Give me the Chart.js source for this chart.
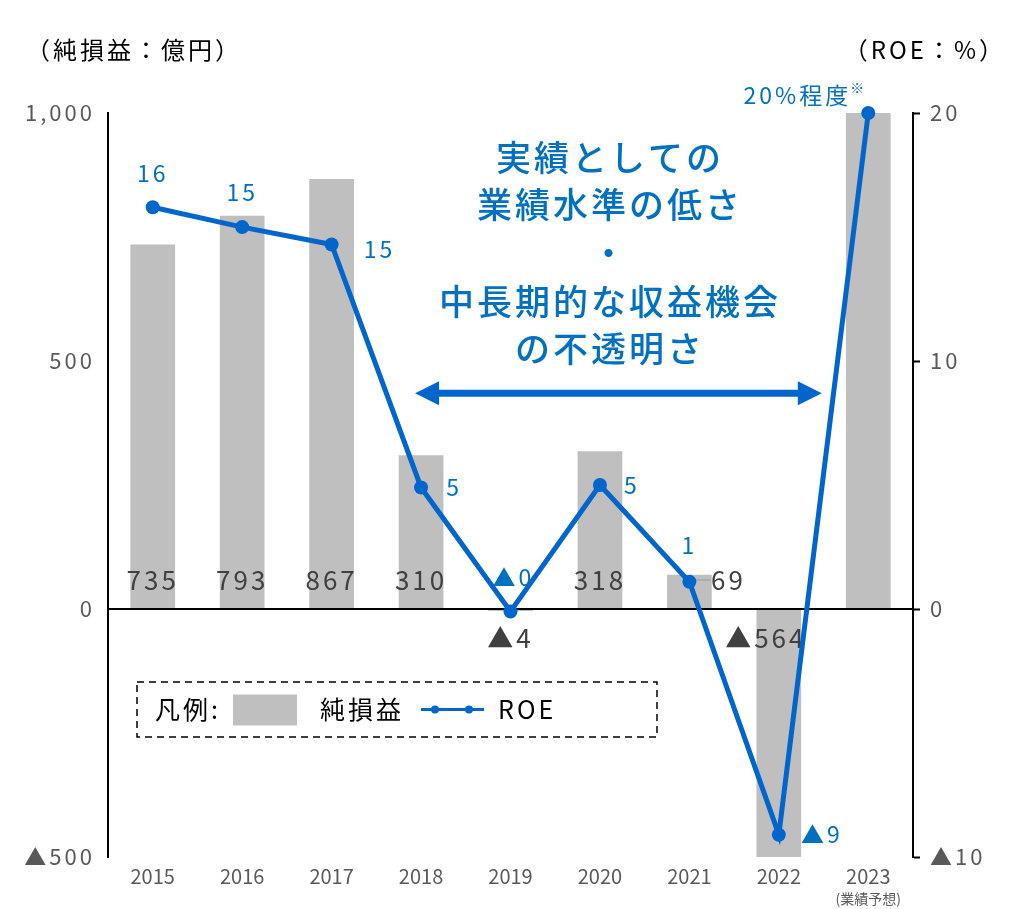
<!DOCTYPE html>
<html>
<head>
<meta charset="utf-8">
<script src="https://cdn.jsdelivr.net/npm/chart.js@4"></script>
<style>
  html, body { margin: 0; padding: 0; background: #fff; }
  #wrap { width: 1012px; height: 909px; position: relative; }
</style>
</head>
<body>
<div id="wrap"><canvas id="chart"></canvas></div>
<script>
// --- data ---
const years = ['2015', '2016', '2017', '2018', '2019', '2020', '2021', '2022', '2023'];
const forecastNote = '(業績予想)';
const netIncome = [735, 793, 867, 310, -4, 318, 69, -564, 1000];
const roe = [16.2, 15.4, 14.7, 4.9, -0.1, 5.0, 1.1, -9.1, 20];
const roeLabels = ['16', '15', '15', '5', '▲0', '5', '1', '▲9', '20%程度'];
const leftTicks = [-500, 0, 500, 1000];
const rightTicks = [-10, 0, 10, 20];
const callout = ['実績としての', '業績水準の低さ', '・', '中長期的な収益機会', 'の不透明さ'];

// --- label placement (offsets in px from the mark) ---
const barLabelOffsets = [[0, -29], [0, -29], [0, -29], [0, -29], [0, 29], [0, -29], [39, -29], [-13, 29], null];
const roeLabelOffsets = [[0, -34], [0, -35], [48, 5], [33, 0], [3, -34], [32, 0], [0, -36], [43, 0], [-71, -18]];

const BLUE = '#0066CC';
const TEXT_BLUE = '#0070C0';
const GRAY = '#BFBFBF';
const FONT = "'Noto Sans CJK JP', 'Noto Sans', sans-serif";
const SPACING = '3px';

Chart.defaults.font.family = FONT;

function fmt(v) {
    const s = Math.abs(v).toLocaleString('en-US');
    return v < 0 ? '▲' + s : s;
}

const overlay = {
    id: 'overlay',
    beforeDraw(chart) {
        // the source deck sets its text with a little tracking
        chart.ctx.letterSpacing = SPACING;
    },
    afterDatasetDraw(chart, args) {
        // bar value labels go under the ROE line
        if (args.index !== 1) return;
        const { ctx } = chart;
        const meta = chart.getDatasetMeta(1);
        const zeroY = chart.scales.y.getPixelForValue(0);
        ctx.save();
        ctx.letterSpacing = SPACING;
        ctx.font = `26px ${FONT}`;
        ctx.fillStyle = '#404040';
        ctx.textAlign = 'center';
        ctx.textBaseline = 'middle';
        meta.data.forEach((bar, i) => {
            const off = barLabelOffsets[i];
            if (!off) return;
            ctx.fillText(fmt(netIncome[i]), bar.x + off[0], zeroY + off[1]);
            if (off[0] > 20) {
                ctx.strokeStyle = '#A6A6A6';
                ctx.lineWidth = 1.5;
                ctx.beginPath();
                ctx.moveTo(bar.x, zeroY + off[1]);
                ctx.lineTo(bar.x + off[0] - 18, zeroY + off[1]);
                ctx.stroke();
            }
        });
        ctx.restore();
    },
    afterDatasetsDraw(chart) {
        const { ctx, scales: { x, y1 } } = chart;
        ctx.save();
        ctx.letterSpacing = SPACING;

        // ROE labels
        const meta = chart.getDatasetMeta(0);
        ctx.font = `23px ${FONT}`;
        ctx.fillStyle = TEXT_BLUE;
        ctx.textAlign = 'center';
        ctx.textBaseline = 'middle';
        meta.data.forEach((pt, i) => {
            const off = roeLabelOffsets[i];
            const tx = pt.x + off[0], ty = pt.y + off[1];
            ctx.fillText(roeLabels[i], tx, ty);
            if (i === roe.length - 1) {
                const w = ctx.measureText(roeLabels[i]).width;
                ctx.save();
                ctx.font = `14px ${FONT}`;
                ctx.textAlign = 'left';
                ctx.fillText('※', tx + w / 2 - 1, ty - 7);
                ctx.restore();
            }
        });

        // callout text
        const cx = x.getPixelForValue(5) + 10;
        ctx.font = `500 35px ${FONT}`;
        ctx.fillStyle = TEXT_BLUE;
        const lineYs = [158, 205, 253, 302, 349];
        callout.forEach((t, i) => ctx.fillText(t, cx, lineYs[i]));

        // double arrow
        const ax0 = x.getPixelForValue(3) - 6;
        const ax1 = x.getPixelForValue(7) + 43;
        const ay = y1.getPixelForValue(8.7);
        ctx.fillStyle = BLUE;
        ctx.strokeStyle = BLUE;
        ctx.lineWidth = 7;
        ctx.beginPath();
        ctx.moveTo(ax0 + 20, ay);
        ctx.lineTo(ax1 - 20, ay);
        ctx.stroke();
        [[ax0, 1], [ax1, -1]].forEach(([px, dir]) => {
            ctx.beginPath();
            ctx.moveTo(px, ay);
            ctx.lineTo(px + dir * 24, ay - 12);
            ctx.lineTo(px + dir * 24, ay + 12);
            ctx.closePath();
            ctx.fill();
        });

        // axis titles
        ctx.fillStyle = '#000';
        ctx.font = `24px ${FONT}`;
        ctx.textAlign = 'left';
        ctx.fillText('（純損益：億円）', 26, 50);
        ctx.textAlign = 'right';
        ctx.fillText('（ROE：%）', 1006, 50);

        // forecast note under 2023
        ctx.textAlign = 'center';
        ctx.fillStyle = '#595959';
        ctx.letterSpacing = '0px';
        ctx.font = `14px ${FONT}`;
        ctx.fillText(forecastNote, x.getPixelForValue(8), 899);
        ctx.letterSpacing = SPACING;

        // legend box
        const lx = 137, ly = 682, lw = 520, lh = 55;
        ctx.strokeStyle = '#000';
        ctx.lineWidth = 1.5;
        ctx.setLineDash([7, 5]);
        ctx.strokeRect(lx, ly, lw, lh);
        ctx.setLineDash([]);
        const my = ly + lh / 2;
        ctx.textAlign = 'left';
        ctx.fillStyle = '#000';
        ctx.font = `25px ${FONT}`;
        ctx.fillText('凡例:', 155, my);
        const barDs = chart.data.datasets[1];
        const lineDs = chart.data.datasets[0];
        ctx.fillStyle = barDs.backgroundColor;
        ctx.fillRect(233, my - 15, 64, 31);
        ctx.fillStyle = '#000';
        ctx.fillText(barDs.label, 320, my);
        ctx.strokeStyle = lineDs.borderColor;
        ctx.lineWidth = 3;
        ctx.beginPath();
        ctx.moveTo(421, my);
        ctx.lineTo(484, my);
        ctx.stroke();
        ctx.fillStyle = lineDs.borderColor;
        [435, 469].forEach(px => {
            ctx.beginPath();
            ctx.arc(px, my, 4, 0, Math.PI * 2);
            ctx.fill();
        });
        ctx.fillStyle = '#000';
        ctx.fillText(lineDs.label, 498, my);

        ctx.restore();
        // x tick labels (ticks.z = 1) are drawn after this point, untracked
        ctx.letterSpacing = '0px';
    }
};

new Chart(document.getElementById('chart'), {
    data: {
        labels: years,
        datasets: [{
            type: 'line',
            label: 'ROE',
            data: roe,
            yAxisID: 'y1',
            borderColor: BLUE,
            backgroundColor: BLUE,
            borderWidth: 5,
            pointRadius: 7,
            pointBackgroundColor: BLUE,
            pointBorderWidth: 0,
            tension: 0,
            clip: false,
            order: 0
        }, {
            type: 'bar',
            label: '純損益',
            data: netIncome,
            yAxisID: 'y',
            backgroundColor: GRAY,
            barPercentage: 0.5,
            categoryPercentage: 1.0,
            order: 1
        }]
    },
    options: {
        responsive: true,
        maintainAspectRatio: false,
        animation: false,
        layout: { padding: { top: 113, left: 0, right: 0, bottom: 0 } },
        plugins: {
            legend: { display: false },
            tooltip: { enabled: false }
        },
        scales: {
            x: {
                grid: { display: false, drawTicks: false },
                border: { display: false },
                ticks: { z: 1, color: '#595959', font: { size: 20 }, padding: 7, maxRotation: 0 },
                afterFit: s => { s.height = 52; }
            },
            y: {
                position: 'left',
                min: -500,
                max: 1000,
                afterBuildTicks: s => { s.ticks = leftTicks.map(v => ({ value: v })); },
                grid: {
                    drawTicks: false,
                    lineWidth: 2,
                    color: c => (c.tick && c.tick.value === 0 ? '#000' : 'rgba(0,0,0,0)')
                },
                border: { display: true, color: '#000', width: 2 },
                ticks: { color: '#595959', font: { size: 22 }, padding: 13, callback: v => fmt(v) },
                afterFit: s => { s.width = 108; }
            },
            y1: {
                position: 'right',
                min: -10,
                max: 20,
                afterBuildTicks: s => { s.ticks = rightTicks.map(v => ({ value: v })); },
                grid: { drawOnChartArea: false, drawTicks: true, tickLength: 7, tickColor: '#000', tickWidth: 2 },
                border: { display: true, color: '#000', width: 2 },
                ticks: { color: '#595959', font: { size: 22 }, padding: 10, callback: v => fmt(v) },
                afterFit: s => { s.width = 99; }
            }
        }
    },
    plugins: [overlay]
});
</script>
</body>
</html>
